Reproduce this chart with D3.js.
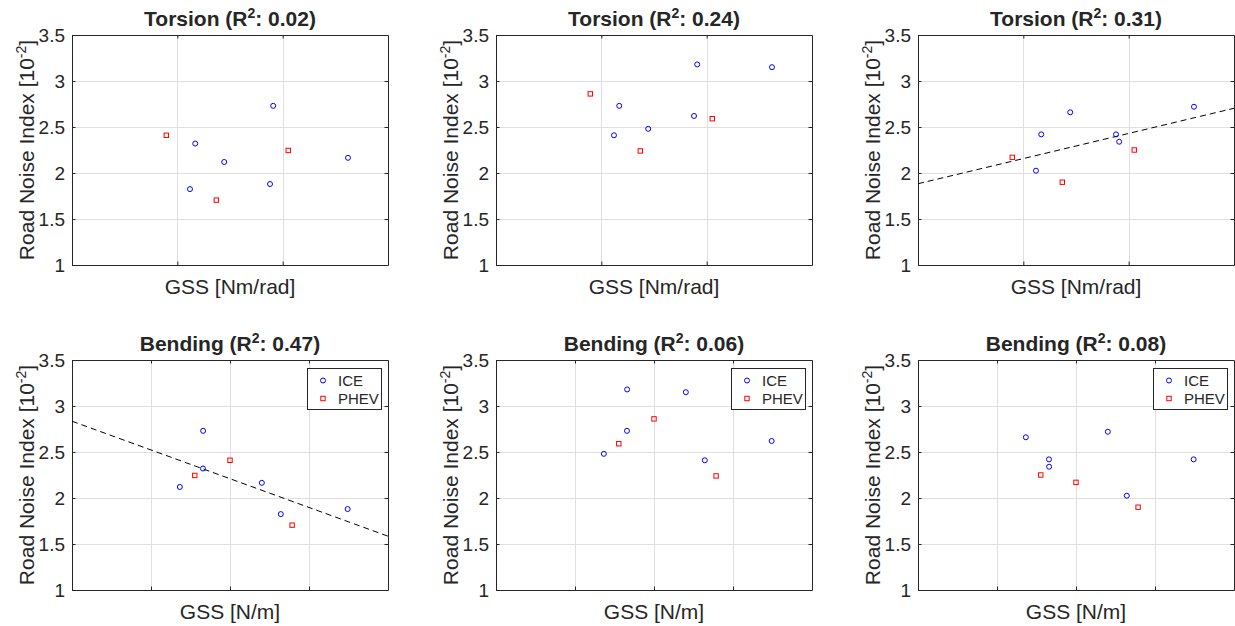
<!DOCTYPE html>
<html>
<head>
<meta charset="utf-8">
<script src="https://cdn.jsdelivr.net/npm/d3@7"></script>
<style>
  body { margin: 0; background: #fff; }
  text { font-family: "Liberation Sans", Arial, Helvetica, sans-serif; fill: #262626; }
</style>
</head>
<body>
<svg id="chart" width="1235" height="626"></svg>
<script>

// ---- data (x in tick units, no labels shown) ----
// vehicles in the same order in every array: 6 ICE cars, 3 PHEVs
var iceTorsion  = [1.17, 1.12, 1.445, 1.91, 1.88, 2.62];
var phevTorsion = [0.895, 1.37, 2.053];
var iceBending  = [1.658, 2.643, 1.365, 1.66, 3.489, 2.403];
var phevBending = [2.0, 2.786, 1.554];

// road noise index [10^-2], one array per column of panels
var iceNoiseA  = [2.32, 1.825, 2.12, 2.73, 1.88, 2.165];
var phevNoiseA = [2.41, 1.705, 2.245];
var iceNoiseB  = [2.73, 2.41, 2.48, 3.18, 2.62, 3.15];
var phevNoiseB = [2.86, 2.24, 2.59];
var iceNoiseC  = [2.42, 2.025, 2.66, 2.34, 2.42, 2.72];
var phevNoiseC = [2.17, 1.90, 2.25];

var yTicks = [1, 1.5, 2, 2.5, 3, 3.5];
var torsionTicks = [1, 2];
var bendingTicks = [1, 2, 3];
var r2Labels = ["0.02", "0.24", "0.31", "0.47", "0.06", "0.08"];
var seriesNames = ["ICE", "PHEV"];

var panels = [
  {row: 0, col: 0, name: "Torsion", xLab: "GSS [Nm/rad]", ice: [iceTorsion, iceNoiseA], phev: [phevTorsion, phevNoiseA], xDom: [0, 3], xTicks: torsionTicks, r2: r2Labels[0], fit: false, legend: false},
  {row: 0, col: 1, name: "Torsion", xLab: "GSS [Nm/rad]", ice: [iceTorsion, iceNoiseB], phev: [phevTorsion, phevNoiseB], xDom: [0, 3], xTicks: torsionTicks, r2: r2Labels[1], fit: false, legend: false},
  {row: 0, col: 2, name: "Torsion", xLab: "GSS [Nm/rad]", ice: [iceTorsion, iceNoiseC], phev: [phevTorsion, phevNoiseC], xDom: [0, 3], xTicks: torsionTicks, r2: r2Labels[2], fit: true, legend: false},
  {row: 1, col: 0, name: "Bending", xLab: "GSS [N/m]", ice: [iceBending, iceNoiseA], phev: [phevBending, phevNoiseA], xDom: [0, 4], xTicks: bendingTicks, r2: r2Labels[3], fit: true, legend: true},
  {row: 1, col: 1, name: "Bending", xLab: "GSS [N/m]", ice: [iceBending, iceNoiseB], phev: [phevBending, phevNoiseB], xDom: [0, 4], xTicks: bendingTicks, r2: r2Labels[4], fit: false, legend: true},
  {row: 1, col: 2, name: "Bending", xLab: "GSS [N/m]", ice: [iceBending, iceNoiseC], phev: [phevBending, phevNoiseC], xDom: [0, 4], xTicks: bendingTicks, r2: r2Labels[5], fit: false, legend: true}
];

// ---- layout ----
var lefts = [72, 496, 918],
    tops = [35, 360],
    pw = 316,
    ph = 230,
    tickLen = 3.5,
    axisColor = "#262626",
    gridColor = "#dfdfdf";

var svg = d3.select("#chart");

function zip(xs, ys) {
  return xs.map(function(v, i) { return {x: v, y: ys[i]}; });
}

// least squares line through all points of a panel
function linFit(pts) {
  var mx = d3.mean(pts, d => d.x), my = d3.mean(pts, d => d.y);
  var sxy = d3.sum(pts, d => (d.x - mx) * (d.y - my));
  var sxx = d3.sum(pts, d => (d.x - mx) * (d.x - mx));
  var b = sxy / sxx;
  return {a: my - b * mx, b: b};
}

panels.forEach(function(p, k) {
  var g = svg.append("g")
    .attr("transform", "translate(" + lefts[p.col] + "," + tops[p.row] + ")");

  var x = d3.scaleLinear().domain(p.xDom).range([0, pw]);
  var y = d3.scaleLinear().domain([1, 3.5]).range([ph, 0]);

  // grid
  g.append("g").selectAll("line").data(p.xTicks).enter().append("line")
    .attr("x1", d => Math.round(x(d)) + 0.5).attr("x2", d => Math.round(x(d)) + 0.5)
    .attr("y1", 0).attr("y2", ph)
    .attr("stroke", gridColor);
  g.append("g").selectAll("line").data(yTicks.slice(1, -1)).enter().append("line")
    .attr("x1", 0).attr("x2", pw)
    .attr("y1", d => Math.round(y(d)) + 0.5).attr("y2", d => Math.round(y(d)) + 0.5)
    .attr("stroke", gridColor);

  // axes, box on, ticks pointing in
  var left = g.append("g").call(d3.axisLeft(y).tickValues(yTicks).tickFormat(d3.format(""))
    .tickSizeInner(-tickLen).tickSizeOuter(0).tickPadding(7));
  var right = g.append("g").attr("transform", "translate(" + pw + ",0)")
    .call(d3.axisRight(y).tickValues(yTicks).tickFormat("").tickSizeInner(-tickLen).tickSizeOuter(0));
  var bottom = g.append("g").attr("transform", "translate(0," + ph + ")")
    .call(d3.axisBottom(x).tickValues(p.xTicks).tickFormat("").tickSizeInner(-tickLen).tickSizeOuter(0));
  var top = g.append("g")
    .call(d3.axisTop(x).tickValues(p.xTicks).tickFormat("").tickSizeInner(-tickLen).tickSizeOuter(0));
  [left, right, bottom, top].forEach(function(ax) {
    ax.selectAll("path, line").attr("stroke", axisColor);
    ax.select(".domain").attr("stroke-width", 1);
  });
  left.selectAll("text").style("font-size", "19px").attr("fill", axisColor);

  var icePts = zip(p.ice[0], p.ice[1]);
  var phevPts = zip(p.phev[0], p.phev[1]);

  // regression line
  if (p.fit) {
    var clipId = "clip" + k;
    g.append("clipPath").attr("id", clipId).append("rect")
      .attr("width", pw).attr("height", ph);
    var f = linFit(icePts.concat(phevPts));
    g.append("line")
      .attr("clip-path", "url(#" + clipId + ")")
      .attr("x1", x(p.xDom[0])).attr("y1", y(f.a + f.b * p.xDom[0]))
      .attr("x2", x(p.xDom[1])).attr("y2", y(f.a + f.b * p.xDom[1]))
      .attr("stroke", "#000").attr("stroke-width", 1)
      .attr("stroke-dasharray", "6,4");
  }

  // markers
  g.append("g").selectAll("circle").data(icePts).enter().append("circle")
    .attr("cx", d => x(d.x)).attr("cy", d => y(d.y)).attr("r", 2.5)
    .attr("fill", "none").attr("stroke", "#0000ff").attr("stroke-width", 1);
  g.append("g").selectAll("rect").data(phevPts).enter().append("rect")
    .attr("x", d => x(d.x) - 2.2).attr("y", d => y(d.y) - 2.2)
    .attr("width", 4.4).attr("height", 4.4)
    .attr("fill", "none").attr("stroke", "#ff0000").attr("stroke-width", 1);

  // title with R^2
  var title = g.append("text")
    .attr("x", pw / 2).attr("y", -9)
    .attr("text-anchor", "middle")
    .style("font-size", "21px").style("font-weight", "bold").attr("fill", "#000");
  title.append("tspan").text(p.name + " (R");
  title.append("tspan").attr("dy", -8).style("font-size", "14px").text("2");
  title.append("tspan").attr("dy", 8).text(": " + p.r2 + ")");

  // axis labels
  g.append("text")
    .attr("x", pw / 2).attr("y", ph + 29)
    .attr("text-anchor", "middle")
    .style("font-size", "21px")
    .text(p.xLab);
  var yl = g.append("text")
    .attr("transform", "translate(-38," + (ph / 2) + ") rotate(-90)")
    .attr("text-anchor", "middle")
    .style("font-size", "21px");
  yl.append("tspan").text("Road Noise Index [10");
  yl.append("tspan").attr("dy", -8).style("font-size", "14px").text("-2");
  yl.append("tspan").attr("dy", 8).text("]");

  // legend
  if (p.legend) {
    var lg = g.append("g").attr("transform", "translate(" + (pw - 81) + ",8)");
    lg.append("rect").attr("width", 74).attr("height", 41)
      .attr("fill", "#fff").attr("stroke", axisColor).attr("stroke-width", 1)
      .attr("shape-rendering", "crispEdges");
    lg.append("circle").attr("cx", 16).attr("cy", 12.5).attr("r", 2.5)
      .attr("fill", "none").attr("stroke", "#0000ff");
    lg.append("rect").attr("x", 13.8).attr("y", 28.3).attr("width", 4.4).attr("height", 4.4)
      .attr("fill", "none").attr("stroke", "#ff0000");
    lg.selectAll("text").data(seriesNames).enter().append("text")
      .attr("x", 31).attr("y", (d, i) => 12.5 + i * 18).attr("dy", "0.35em")
      .style("font-size", "15px")
      .text(d => d);
  }
});
</script>
</body>
</html>
